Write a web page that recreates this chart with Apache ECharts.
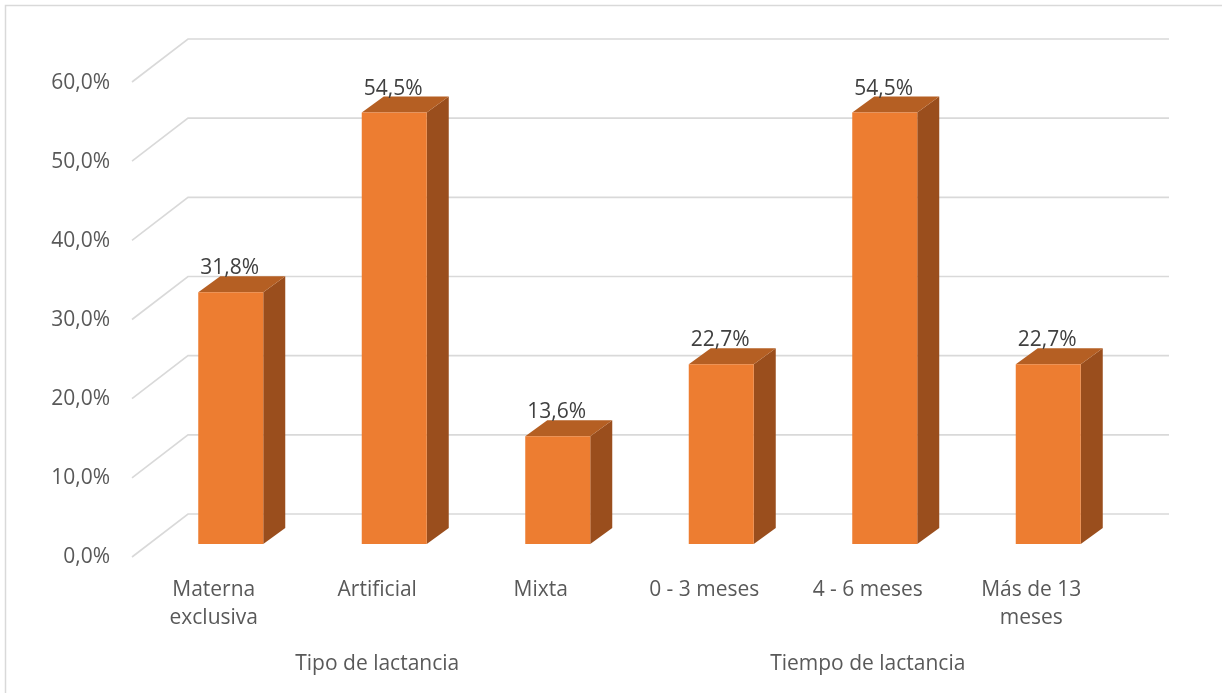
<!DOCTYPE html>
<html>
<head>
<meta charset="utf-8">
<script src="https://cdn.jsdelivr.net/npm/echarts@6/dist/echarts.min.js"></script>
<style>
  html, body { margin: 0; padding: 0; background: #ffffff; }
  #chart { width: 1222px; height: 693px; }
</style>
</head>
<body>
<div id="chart"></div>
<script>
// Categories, values and tick labels
const categories = ['Materna\nexclusiva', 'Artificial', 'Mixta', '0 - 3 meses', '4 - 6 meses', 'Más de 13\nmeses'];
const groupLabels = ['', 'Tipo de lactancia', '', '', 'Tiempo de lactancia', ''];
const percentages = [31.8, 54.5, 13.6, 22.7, 54.5, 22.7];
const yTicks = [0, 10, 20, 30, 40, 50, 60];

const FONT = '"Open Sans", "Liberation Sans", sans-serif';
const FS = 21;
const fmt = v => v.toFixed(1).replace('.', ',') + '%';

// Oblique projection offsets (pixels) relative to the bar front plane
const BACK = [39, -30];   // back wall
const FRONT = [-17, 13];  // floor front edge
const DEPTH = [22, -16];  // bar depth
const BAR_W = 65;

const chart = echarts.init(document.getElementById('chart'), null, { renderer: 'canvas' });

function renderGrid(params, api) {
  const v = api.value(0);
  const cs = params.coordSys;
  const y = api.coord([0, v])[1];
  const left = cs.x, right = cs.x + cs.width;
  return {
    type: 'polyline',
    shape: {
      points: [
        [left + FRONT[0], y + FRONT[1]],
        [left + BACK[0], y + BACK[1]],
        [right + BACK[0], y + BACK[1]]
      ]
    },
    style: { stroke: '#d9d9d9', lineWidth: 1.6, fill: null },
    silent: true
  };
}

function renderBar(params, api) {
  const idx = api.value(0);
  const v = api.value(1);
  const top = api.coord([idx, v]);
  const base = api.coord([idx, 0]);
  const x0 = top[0] - BAR_W / 2, x1 = top[0] + BAR_W / 2;
  const yT = top[1], yB = base[1];
  const dx = DEPTH[0], dy = DEPTH[1];
  return {
    type: 'group',
    children: [
      { type: 'polygon', shape: { points: [[x1, yT], [x1 + dx, yT + dy], [x1 + dx, yB + dy], [x1, yB]] },
        style: { fill: '#9a4e1d' } },
      { type: 'polygon', shape: { points: [[x0, yT], [x0 + dx, yT + dy], [x1 + dx, yT + dy], [x1, yT]] },
        style: { fill: '#b55f23' } },
      { type: 'rect', shape: { x: x0, y: yT, width: BAR_W, height: yB - yT },
        style: { fill: '#ed7d31' } },
      { type: 'text', x: top[0] - 1, y: yT - 24,
        style: { text: fmt(v), fill: '#404040', font: FS + 'px ' + FONT, align: 'center', verticalAlign: 'middle' } }
    ]
  };
}

const option = {
  backgroundColor: '#ffffff',
  animation: false,
  textStyle: { fontFamily: FONT },
  graphic: [{
    type: 'rect', silent: true,
    shape: { x: 5.5, y: 5.5, width: 1400, height: 900 },
    style: { fill: null, stroke: '#d9d9d9', lineWidth: 1.5 }
  }],
  grid: [
    // bar front plane
    { left: 149, right: 92, top: 69, bottom: 149 },
    // floor front edge, carries the axis labels
    { left: 132, right: 109, top: 83, bottom: 136 }
  ],
  xAxis: [
    { gridIndex: 0, type: 'category', data: categories, show: false },
    { gridIndex: 1, type: 'category', data: categories,
      axisLine: { show: false }, axisTick: { show: false },
      axisLabel: { interval: 0, margin: 19, fontSize: FS, lineHeight: 28, color: '#595959', fontFamily: FONT } },
    { gridIndex: 1, type: 'category', data: groupLabels, position: 'bottom', offset: 75,
      axisLine: { show: false }, axisTick: { show: false },
      axisLabel: { interval: 0, margin: 18, fontSize: FS, lineHeight: 28, color: '#595959', fontFamily: FONT } }
  ],
  yAxis: [
    { gridIndex: 0, type: 'value', min: 0, max: 60, interval: 10, show: false },
    { gridIndex: 1, type: 'value', min: 0, max: 60, interval: 10,
      axisLine: { show: false }, axisTick: { show: false }, splitLine: { show: false },
      axisLabel: { margin: 22, fontSize: FS, color: '#595959', fontFamily: FONT, formatter: fmt } }
  ],
  series: [
    { type: 'custom', xAxisIndex: 0, yAxisIndex: 0, z: 1, silent: true,
      renderItem: renderGrid, data: yTicks.map(v => [v]), encode: { y: 0 } },
    { type: 'custom', xAxisIndex: 0, yAxisIndex: 0, z: 5, silent: true,
      renderItem: renderBar, data: percentages.map((v, i) => [i, v]), encode: { x: 0, y: 1 } }
  ]
};

chart.setOption(option);
</script>
</body>
</html>
